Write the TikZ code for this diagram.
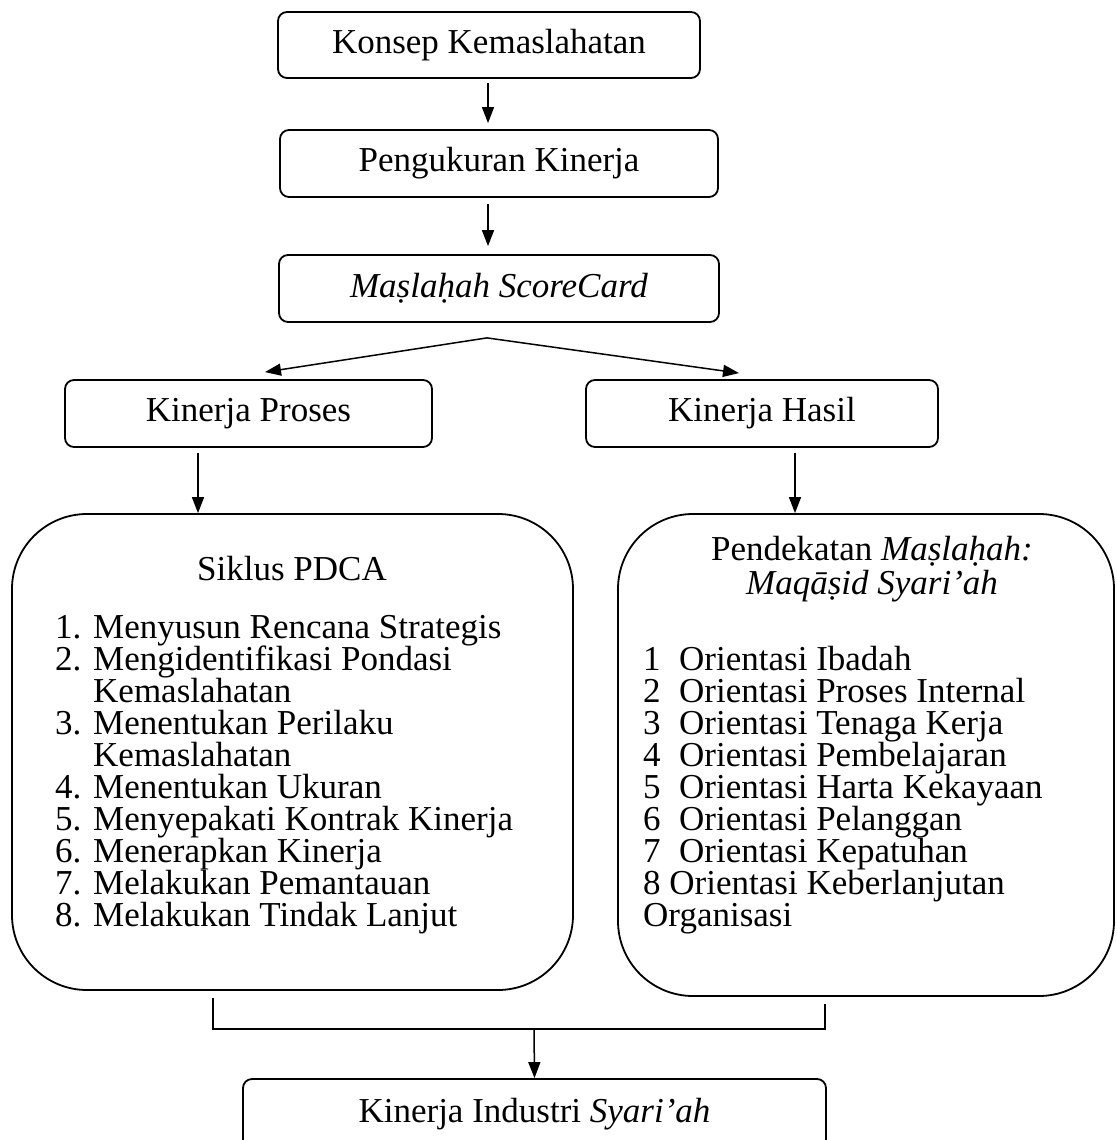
\documentclass[tikz,border=0pt]{standalone}
\usepackage{fontspec}
\setmainfont{Liberation Serif}
\usetikzlibrary{arrows.meta}
\begin{document}
\begin{tikzpicture}[x=1pt,y=-1pt,
  every node/.style={font=\fontsize{35}{35}\selectfont},
  box/.style={draw, line width=1.8pt, rounded corners=9pt, inner sep=0pt},
  bigbox/.style={draw, line width=1.8pt, rounded corners=75pt, inner sep=0pt},
  txt/.style={anchor=base west, inner sep=0pt},
  ctr/.style={anchor=base, inner sep=0pt},
  arr/.style={line width=1.5pt, -{Triangle[length=16pt,width=12pt]}},
  ln/.style={line width=1.6pt}]
\useasboundingbox[fill=white] (0,0) rectangle (1116,1140);

% top chain
\node[box, minimum width=422pt, minimum height=66pt] (konsep) at (489,45) {Konsep Kemaslahatan};
\node[box, minimum width=438pt, minimum height=67pt] (peng) at (499,163.5) {Pengukuran Kinerja};
\node[box, minimum width=440pt, minimum height=67pt] (masl) at (499,288.5) {\textit{Maṣlaḥah ScoreCard}};

\node[box, minimum width=367pt, minimum height=67pt] (proses) at (248.5,413.5) {Kinerja Proses};
\node[box, minimum width=352pt, minimum height=67pt] (hasil) at (762,413.5) {Kinerja Hasil};

\draw[arr] ([xshift=-1pt,yshift=-4pt]konsep.south) -- ([xshift=-11pt,yshift=6pt]peng.north);
\draw[arr] ([xshift=-11pt,yshift=-6pt]peng.south) -- ([xshift=-11pt,yshift=8pt]masl.north);

\coordinate (br) at ([xshift=-12pt,yshift=-15pt]masl.south);
\draw[arr] (br) -- ([xshift=16.5pt,yshift=7pt]proses.north);
\draw[arr] (br) -- ([xshift=-23pt,yshift=6pt]hasil.north);

% big boxes
\node[bigbox, minimum width=561pt, minimum height=476pt] (left) at (292.5,752) {};
\node[bigbox, minimum width=496pt, minimum height=482pt] (right) at (866,755) {};

\draw[arr] ([xshift=-50.5pt,yshift=-5pt]proses.south) -- ([xshift=-94.5pt]left.north);
\draw[arr] ([xshift=33pt,yshift=-5pt]hasil.south) -- ([xshift=-71pt]right.north);

% left contents
\node[ctr] (lh) at (292,580) {Siklus PDCA};
\node[txt] (n1) at (55,638) {1.}; \node[txt] (t1) at (93,638) {Menyusun Rencana Strategis};
\node[txt] (n2) at (55,670) {2.}; \node[txt] (t2) at (93,670) {Mengidentifikasi Pondasi};
\node[txt] (t2b) at (93,702) {Kemaslahatan};
\node[txt] (n3) at (55,734) {3.}; \node[txt] (t3) at (93,734) {Menentukan Perilaku};
\node[txt] (t3b) at (93,766) {Kemaslahatan};
\node[txt] (n4) at (55,798) {4.}; \node[txt] (t4) at (93,798) {Menentukan Ukuran};
\node[txt] (n5) at (55,830) {5.}; \node[txt] (t5) at (93,830) {Menyepakati Kontrak Kinerja};
\node[txt] (n6) at (55,862) {6.}; \node[txt] (t6) at (93,862) {Menerapkan Kinerja};
\node[txt] (n7) at (55,894) {7.}; \node[txt] (t7) at (93,894) {Melakukan Pemantauan};
\node[txt] (n8) at (55,926) {8.}; \node[txt] (t8) at (93,926) {Melakukan Tindak Lanjut};

% right contents
\node[ctr] (rh1) at (872,560) {Pendekatan \textit{Maṣlaḥah:}};
\node[ctr] (rh2) at (872,594) {\textit{Maqāṣid Syari’ah}};
\node[txt] (m1) at (643,670) {1}; \node[txt] (o1) at (679,670) {Orientasi Ibadah};
\node[txt] (m2) at (643,702) {2}; \node[txt] (o2) at (679,702) {Orientasi Proses Internal};
\node[txt] (m3) at (643,734) {3}; \node[txt] (o3) at (679,734) {Orientasi Tenaga Kerja};
\node[txt] (m4) at (643,766) {4}; \node[txt] (o4) at (679,766) {Orientasi Pembelajaran};
\node[txt] (m5) at (643,798) {5}; \node[txt] (o5) at (679,798) {Orientasi Harta Kekayaan};
\node[txt] (m6) at (643,830) {6}; \node[txt] (o6) at (679,830) {Orientasi Pelanggan};
\node[txt] (m7) at (643,862) {7}; \node[txt] (o7) at (679,862) {Orientasi Kepatuhan};
\node[txt] (m8) at (643,894) {8 Orientasi Keberlanjutan};
\node[txt] (m8b) at (643,926) {Organisasi};

% bottom
\node[box, minimum width=583pt, minimum height=71pt] (final) at (534.5,1114.5) {Kinerja Industri \textit{Syari’ah}};
\coordinate (jl) at (213,1029);
\coordinate (jr) at (825,1029);
\coordinate (jm) at (534,1029);
\draw[ln] ([xshift=-79.5pt,yshift=-7pt]left.south) -- (jl) -- (jr) -- ([xshift=-41pt,yshift=-7pt]right.south);
\draw[arr] (jm) -- (final.north);
\end{tikzpicture}
\end{document}
